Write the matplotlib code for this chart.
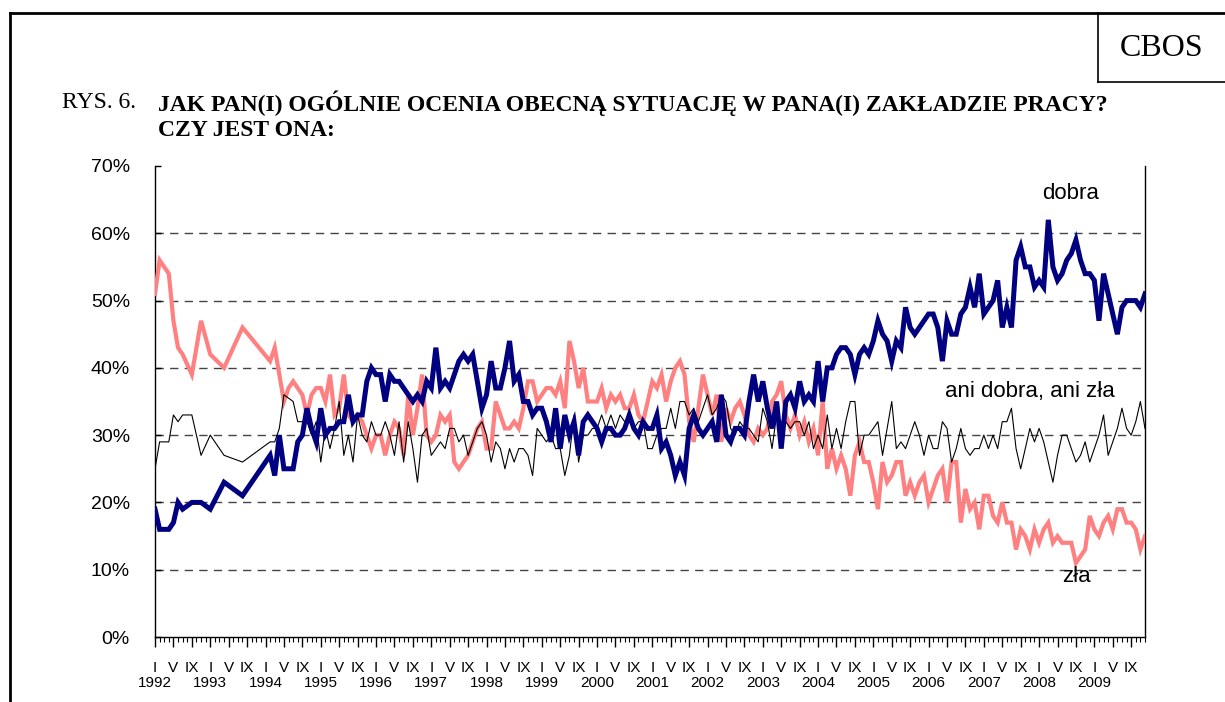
import numpy as np
import matplotlib
matplotlib.use('Agg')
import matplotlib.pyplot as plt
from matplotlib.transforms import blended_transform_factory
from matplotlib.lines import Line2D

N = None
years = list(range(1992, 2010))
month_names = ['I', 'V', 'IX']

# monthly series, Jan 1992 .. Dec 2009 (None = no survey that month)
dobra = [
    19, 16, 16, 16, 17, 20, 19, N, 20, N, 20, N,   # 1992
    19, N, N, 23, N, N, N, 21, N, N, N, N,         # 1993
    N, 27, 24, 30, 25, 25, 25, 29, 30, 34, 31, 29,  # 1994
    34, 30, 31, 31, 32, 32, 36, 32, 33, 33, 38, 40,  # 1995
    39, 39, 35, 39, 38, 38, 37, 36, 35, 36, 35, 38,  # 1996
    37, 43, 37, 38, 37, 39, 41, 42, 41, 42, 38, 34,  # 1997
    36, 41, 37, 37, 40, 44, 38, 39, 35, 35, 33, 34,  # 1998
    34, 32, 29, 34, 28, 33, 30, 32, 27, 32, 33, 32,  # 1999
    31, 29, 31, 31, 30, 30, 31, 33, 31, 30, 32, 31,  # 2000
    31, 33, 28, 29, 27, 24, 26, 24, 31, 33, 31, 30,  # 2001
    31, 32, 29, 36, 30, 29, 31, 31, 30, 35, 39, 35,  # 2002
    38, 34, 31, 35, 28, 35, 36, 34, 38, 35, 36, 35,  # 2003
    41, 35, 40, 40, 42, 43, 43, 42, 39, 42, 43, 42,  # 2004
    44, 47, 45, 44, 41, 44, 43, 49, 46, 45, 46, 47,  # 2005
    48, 48, 46, 41, 47, 45, 45, 48, 49, 52, 49, 54,  # 2006
    48, 49, 50, 53, 46, 49, 46, 56, 58, 55, 55, 52,  # 2007
    53, 52, 62, 55, 53, 54, 56, 57, 59, 56, 54, 54,  # 2008
    53, 47, 54, 51, 48, 45, 49, 50, 50, 50, 49, 51,  # 2009
]
zla = [
    51, 56, 55, 54, 47, 43, 42, N, 39, N, 47, N,
    42, N, N, 40, N, N, N, 46, N, N, N, N,
    N, 41, 43, 39, 35, 37, 38, 37, 36, 33, 36, 37,
    37, 35, 39, 33, 34, 39, 33, 32, 33, 32, 30, 28,
    30, 30, 27, 30, 32, 31, 27, 36, 30, 34, 39, 30,
    29, 30, 33, 32, 33, 26, 25, 26, 27, 29, 31, 32,
    28, 28, 35, 33, 31, 31, 32, 31, 34, 38, 38, 35,
    36, 37, 37, 36, 38, 34, 44, 41, 37, 40, 35, 35,
    35, 37, 34, 36, 35, 36, 34, 34, 36, 33, 32, 35,
    38, 37, 39, 35, 38, 40, 41, 39, 32, 29, 34, 39,
    36, 33, 36, 29, 34, 32, 34, 35, 33, 30, 29, 31,
    30, 31, 35, 36, 38, 33, 31, 33, 30, 32, 29, 31,
    27, 35, 25, 28, 25, 27, 25, 21, 27, 29, 26, 26,
    23, 19, 26, 23, 24, 26, 26, 21, 23, 21, 23, 24,
    20, 22, 24, 25, 20, 26, 26, 17, 22, 19, 20, 16,
    21, 21, 18, 17, 20, 17, 17, 13, 16, 15, 13, 16,
    14, 16, 17, 14, 15, 14, 14, 14, 11, 12, 13, 18,
    16, 15, 17, 18, 16, 19, 19, 17, 17, 16, 13, 15,
]
ani = [
    25, 29, 29, 29, 33, 32, 33, N, 33, N, 27, N,
    30, N, N, 27, N, N, N, 26, N, N, N, N,
    N, 29, 29, 31, 36, 35.5, 35, 32, 32, 32, 30, 32,
    26, 31, 28, 31, 35, 27, 30, 26, 33, 30, 29, 32,
    30, 30, 32, 30, 27, 32, 26, 32, 28, 23, 30, 31,
    27, 28, 29, 28, 31, 31, 29, 30, 27, 29, 31, 32,
    30, 26, 29, 28, 25, 28, 26, 28, 28, 27, 24, 31,
    30, 29, 30, 28, 28, 24, 27, 33, 26, 30, 30, 31,
    31, 33, 31, 33, 31, 33, 32, 32, 31, 32, 32, 28,
    28, 30, 31, 31, 34, 31, 35, 35, 33, 34, 32, 34,
    36, 33, 34, 36, 35, 31, 30, 32, 31, 31, 30, 29,
    34, 32, 28, 33, 32, 32, 31, 32, 32, 30, 32, 28,
    30, 28, 33, 28, 31, 28, 32, 35, 35, 27, 30, 30,
    31, 32, 27, 31, 35, 28, 29, 28, 30, 32, 30, 27,
    30, 28, 28, 32, 31, 26, 28, 31, 28, 27, 28, 28,
    30, 28, 30, 28, 32, 32, 34, 28, 25, 28, 31, 29,
    31, 29, 26, 23, 27, 30, 30, 28, 26, 27, 29, 26,
    28, 30, 33, 27, 29, 31, 34, 31, 30, 32, 35, 31,
]

series_labels = ['dobra', 'ani dobra, ani zła', 'zła']
title_prefix = 'RYS. 6.'
title_lines = ['JAK PAN(I) OGÓLNIE OCENIA OBECNĄ SYTUACJĘ W PANA(I) ZAKŁADZIE PRACY?',
               'CZY JEST ONA:']

W, H = 1225, 702
fig = plt.figure(figsize=(W / 100, H / 100), dpi=100)
fig.patch.set_facecolor('white')

def fx(px):
    return px / W

def fy(py):
    return 1 - py / H

ax = fig.add_axes([fx(155), fy(637), fx(1145) - fx(155), fy(166) - fy(637)])

x = np.arange(len(dobra))

def clean(vals):
    arr = np.array([np.nan if v is None else v for v in vals], dtype=float)
    ok = ~np.isnan(arr)
    return x[ok], arr[ok]

xr, yr = clean(zla)
ax.plot(xr, yr, color='#FF8080', lw=3.0, solid_joinstyle='miter', zorder=3)
xa, ya = clean(ani)
ax.plot(xa, ya, color='black', lw=0.8, zorder=4)
xb, yb = clean(dobra)
ax.plot(xb, yb, color='#000080', lw=3.6, solid_joinstyle='miter', zorder=5)

ax.set_xlim(0, len(dobra) - 1)
ax.set_ylim(0, 70)

for v in range(10, 70, 10):
    ax.axhline(v, color='#444444', lw=1.0, ls=(0, (6, 4.5)), zorder=1)

ax.spines['top'].set_visible(False)
for s in ['left', 'bottom', 'right']:
    ax.spines[s].set_color('black')
    ax.spines[s].set_linewidth(1.0)

tick_font = 'Liberation Sans'
ax.set_yticks(range(0, 80, 10))
ax.set_yticklabels([f'{v}%' for v in range(0, 80, 10)], fontsize=14, family=tick_font)
ax.tick_params(axis='y', direction='in', length=4, width=1, pad=18, right=False)

major = list(range(0, len(dobra), 4))
ax.set_xticks(major)
ax.set_xticklabels([month_names[(m % 12) // 4] for m in major], fontsize=11, family=tick_font)
ax.set_xticks(range(len(dobra)), minor=True)
ax.tick_params(axis='x', which='major', direction='out', length=7, width=1, pad=10)
ax.tick_params(axis='x', which='minor', direction='out', length=3.5, width=0.8)

trans = blended_transform_factory(ax.transData, fig.transFigure)
for i, yr_ in enumerate(years):
    ax.text(i * 12, fy(683), str(yr_), transform=trans, ha='center', va='center',
            fontsize=11, family=tick_font)

# series labels
fig.text(fx(1071), fy(193), series_labels[0], fontsize=16, family=tick_font, ha='center', va='center')
fig.text(fx(945), fy(392), series_labels[1], fontsize=16, family=tick_font, ha='left', va='center')
fig.text(fx(1076), fy(577), series_labels[2], fontsize=16, family=tick_font, ha='center', va='center')

# title
serif = 'Liberation Serif'
fig.text(fx(62), fy(103), title_prefix, fontsize=17, family=serif, ha='left', va='center')
fig.text(fx(158), fy(103), title_lines[0], fontsize=17, family=serif, weight='bold', ha='left', va='center')
fig.text(fx(158), fy(130), title_lines[1], fontsize=17, family=serif, weight='bold', ha='left', va='center')

# frame and CBOS box
lw = 2
fig.add_artist(Line2D([fx(10), fx(1225)], [fy(13), fy(13)], color='black', lw=lw))
fig.add_artist(Line2D([fx(10), fx(10)], [fy(13), fy(702)], color='black', lw=lw))
fig.add_artist(Line2D([fx(1098), fx(1098)], [fy(13), fy(82)], color='black', lw=1.2))
fig.add_artist(Line2D([fx(1098), fx(1225)], [fy(82), fy(82)], color='black', lw=1.2))
fig.text(fx(1162), fy(49), 'CBOS', fontsize=23, family=serif, ha='center', va='center')

fig.savefig('out.png', dpi=100, facecolor='white')
